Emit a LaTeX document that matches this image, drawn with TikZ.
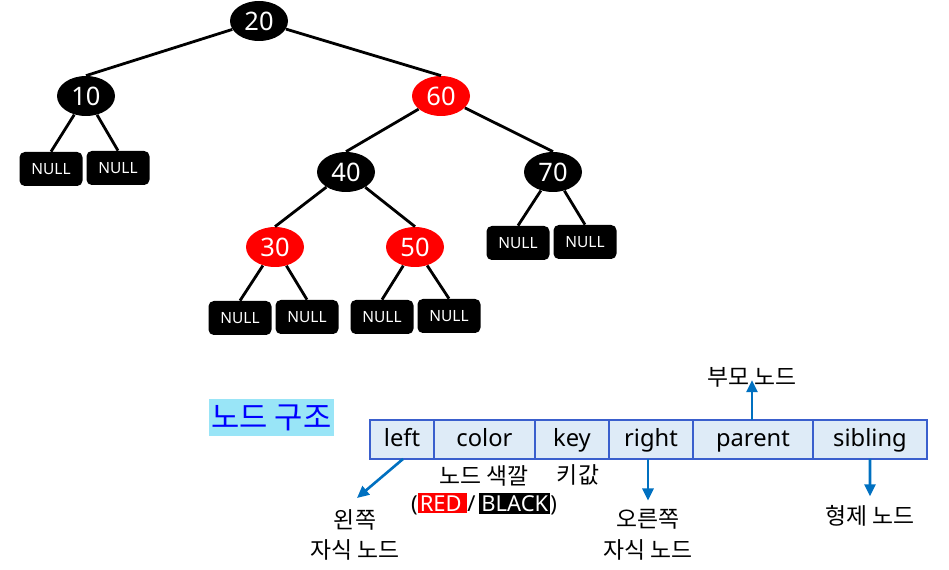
\documentclass[tikz,border=0pt]{standalone}
\usepackage{fontspec}
\setmainfont{Noto Sans}
\newfontfamily\kr{Noto Sans CJK KR}
\usepackage{xcolor}
\usetikzlibrary{shapes.geometric,positioning,arrows.meta}

\definecolor{rbred}{HTML}{FF0000}
\definecolor{cellfill}{HTML}{DEEBF7}
\definecolor{cellline}{HTML}{3A5FCD}
\definecolor{ptrblue}{HTML}{0070C0}
\definecolor{titlebg}{HTML}{99E5F7}
\definecolor{titlefg}{HTML}{0000FF}

\newcommand{\redtag}[1]{{\setlength{\fboxsep}{1.2pt}\colorbox{rbred}{\textcolor{white}{#1}}}}
\newcommand{\blacktag}[1]{{\setlength{\fboxsep}{1.2pt}\colorbox{black}{\textcolor{white}{#1}}}}

\begin{document}
\begin{tikzpicture}[
    blacknode/.style={ellipse, fill=black, text=white, inner sep=0pt, minimum width=1.16cm, minimum height=0.8cm, font=\fontsize{14.5}{17}\selectfont},
    rednode/.style={blacknode, fill=rbred},
    nil/.style={rectangle, rounded corners=3pt, fill=black, text=white, inner sep=0pt, minimum width=1.26cm, minimum height=0.68cm, font=\fontsize{8.8}{11}\selectfont},
    edge/.style={line width=1.6pt, black},
    cell/.style={rectangle, draw=cellline, fill=cellfill, line width=0.9pt, inner sep=0pt, outer sep=0pt, minimum height=0.78cm, text height=1.7ex, text depth=0.25ex, font=\fontsize{13.5}{16}\selectfont},
    note/.style={align=center, inner sep=0pt, font=\kr\fontsize{13}{17.5}\selectfont},
    ptr/.style={-{Triangle[length=2.4mm,width=2.2mm]}, line width=1.5pt, draw=ptrblue}
]
    \useasboundingbox (0,0) rectangle (18.98,11.4);

    % Tree
    \node[blacknode] (n20) at (5.18, 10.98) {20};
    \node[blacknode] (n10) at (1.72, 9.48) {10};
    \node[rednode]   (n60) at (8.82, 9.48) {60};
    \node[blacknode] (n40) at (6.92, 7.96) {40};
    \node[blacknode] (n70) at (11.06, 7.96) {70};
    \node[rednode]   (n30) at (5.50, 6.46) {30};
    \node[rednode]   (n50) at (8.30, 6.46) {50};

    \node[nil] (nil10a) at (1.02, 8.02) {NULL};
    \node[nil] (nil10b) at (2.36, 8.04) {NULL};
    \node[nil] (nil70a) at (10.36, 6.54) {NULL};
    \node[nil] (nil70b) at (11.70, 6.56) {NULL};
    \node[nil] (nil30a) at (4.80, 5.04) {NULL};
    \node[nil] (nil30b) at (6.14, 5.06) {NULL};
    \node[nil] (nil50a) at (7.64, 5.06) {NULL};
    \node[nil] (nil50b) at (8.98, 5.08) {NULL};

    \foreach \p/\c in {n20/n10, n20/n60, n60/n40, n60/n70, n40/n30, n40/n50,
                       n10/nil10a, n10/nil10b, n70/nil70a, n70/nil70b,
                       n30/nil30a, n30/nil30b, n50/nil50a, n50/nil50b}
        \draw[edge] (\p) -- (\c.north);

    % Node structure
    \node[fill=titlebg, text=titlefg, minimum width=2.5cm, minimum height=0.74cm, inner sep=0pt,
          font=\kr\fontsize{17.5}{20}\selectfont] (title) at (5.43, 3.05) {노드 구조};

    \node[cell, minimum width=1.28cm] (left) at (8.04, 2.61) {left};
    \node[cell, minimum width=2.02cm, right=0pt of left] (color) {color};
    \node[cell, minimum width=1.48cm, right=0pt of color] (key) {key};
    \node[cell, minimum width=1.68cm, right=0pt of key] (right) {right};
    \node[cell, minimum width=2.40cm, right=0pt of right] (parent) {parent};
    \node[cell, minimum width=2.28cm, right=0pt of parent] (sibling) {sibling};

    % Labels
    \node[note] (parentlbl) at (15.04, 3.86) {부모 노드};
    \node[note] (colorlbl) at (9.68, 1.88) {노드 색깔};
    \node[note, font=\fontsize{12.5}{16}\selectfont] (colorval) at (9.68, 1.32) {(\redtag{RED\,}/\,\blacktag{BLACK})};
    \node[note] (keylbl) at (11.56, 1.90) {키값};
    \node[note] (leftlbl) at (7.10, 0.70) {왼쪽\\자식 노드};
    \node[note] (rightlbl) at (12.96, 0.70) {오른쪽\\자식 노드};
    \node[note] (siblbl) at (17.40, 1.08) {형제 노드};

    \coordinate (leftend) at (7.14, 1.44);
    \draw[ptr] (left.south) ++(0.02,0) -- (leftend);
    \draw[ptr] (right.south -| rightlbl) -- ([yshift=5pt]rightlbl.north);
    \draw[ptr] (sibling.south) -- ([yshift=5pt]siblbl.north);
    \draw[ptr] (parent.north -| parentlbl) -- ([yshift=4pt]parentlbl.south);
\end{tikzpicture}
\end{document}
